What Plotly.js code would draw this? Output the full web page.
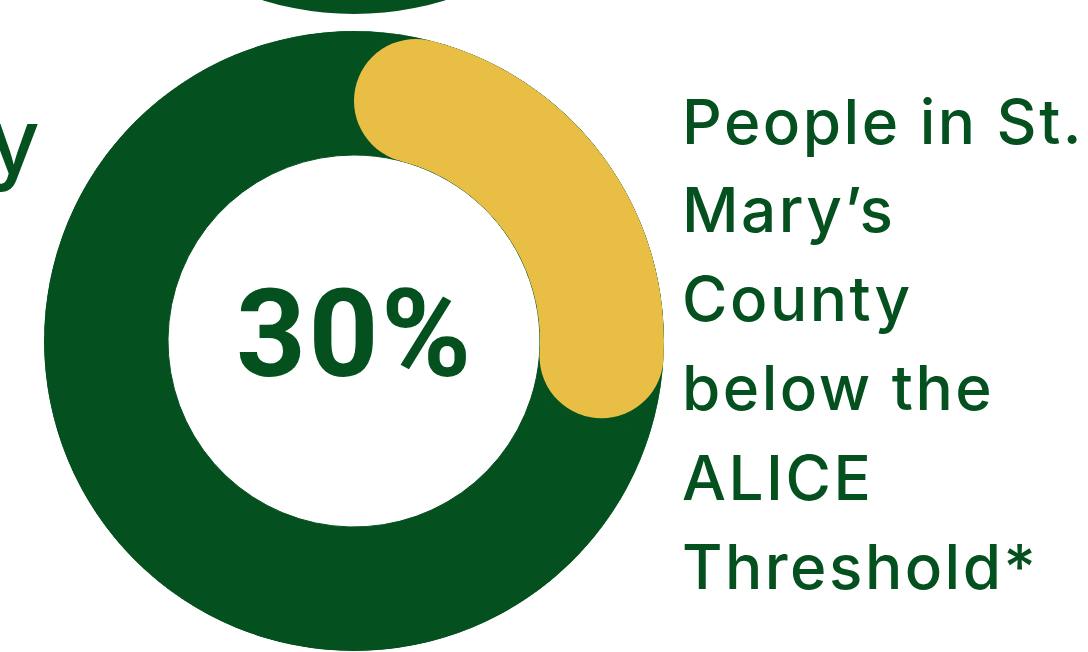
<!DOCTYPE html>
<html>
<head>
<meta charset="utf-8">
<script src="https://cdn.plot.ly/plotly-3.0.1.min.js"></script>
<style>
  html, body { margin: 0; padding: 0; background: #ffffff; }
  #chart { width: 1088px; height: 652px; }
  /* slightly wider tracking to approximate the original geometric typeface
     (unscoped so Plotly's text-measuring clone gets the same spacing) */
  .annotation-text { letter-spacing: 2.5px; }
</style>
</head>
<body>
<div id="chart"></div>
<script>
// ---------- data ----------
const categories = ['Below ALICE Threshold', 'At or above ALICE Threshold'];
const shares = [30, 70];
const centerLabel = ['30%'];
const descLines = ['People in St.', 'Mary\u2019s', 'County', 'below the', 'ALICE', 'Threshold*'];
const leftFragment = ['y'];

// ---------- style / geometry ----------
const W = 1088, H = 652;
const CX = 354, CY = 341;          // ring centre (px)
const R_OUT = 310, R_IN = 186;     // ring radii (px)
const GREEN = '#04511F';
const YELLOW = '#E8BE45';
const FONT = 'Inter, "Open Sans", sans-serif';

const thick = R_OUT - R_IN;
const rMid = (R_OUT + R_IN) / 2;
const capDeg = Math.asin((thick / 2) / rMid) * 180 / Math.PI;

const segDeg = shares.map(v => v * 3.6);
const segCenters = [];
let acc = 0;
segDeg.forEach(d => { segCenters.push(acc + d / 2); acc += d; });

const hiDeg = segDeg[0];
const coreStart = capDeg, coreEnd = hiDeg - capDeg;

const traces = [
  {
    type: 'barpolar',
    r: segDeg.map(() => thick),
    base: segDeg.map(() => R_IN),
    theta: segCenters,
    width: segDeg,
    text: categories,
    marker: { color: GREEN, line: { color: GREEN, width: 1 } },
    hoverinfo: 'text',
    subplot: 'polar'
  },
  {
    type: 'barpolar',
    r: [thick],
    base: [R_IN],
    theta: [(coreStart + coreEnd) / 2],
    width: [coreEnd - coreStart],
    text: [categories[0]],
    marker: { color: YELLOW, line: { color: YELLOW, width: 0 } },
    hoverinfo: 'text',
    subplot: 'polar'
  },
  {
    type: 'scatterpolar',
    mode: 'markers',
    r: [rMid, rMid],
    theta: [coreStart, coreEnd],
    marker: { size: thick, color: YELLOW, line: { width: 0 } },
    hoverinfo: 'skip',
    subplot: 'polar'
  }
];

const annotations = [];
annotations.push({
  text: centerLabel[0], xref: 'paper', yref: 'paper',
  x: 355 / W, y: 1 - 334 / H, xanchor: 'center', yanchor: 'middle',
  showarrow: false, font: { family: 'Roboto, Inter, sans-serif', size: 122, color: GREEN, weight: 700 }
});
const baselines = [143, 232, 320, 409, 499, 588];
descLines.forEach((t, i) => {
  annotations.push({
    text: t, xref: 'paper', yref: 'paper',
    x: 680 / W, y: 1 - (baselines[i] - 22) / H, xanchor: 'left', yanchor: 'middle',
    showarrow: false, font: { family: FONT, size: 62, color: GREEN, weight: 500 }
  });
});
annotations.push({
  text: leftFragment[0], xref: 'paper', yref: 'paper',
  x: 44 / W, y: 1 - 140 / H, xanchor: 'right', yanchor: 'middle',
  showarrow: false, font: { family: FONT, size: 90, color: GREEN, weight: 500 }
});

const layout = {
  width: W, height: H,
  margin: { l: 0, r: 0, t: 0, b: 0, pad: 0 },
  paper_bgcolor: '#ffffff',
  showlegend: false,
  polar: {
    domain: { x: [(CX - R_OUT) / W, (CX + R_OUT) / W], y: [1 - (CY + R_OUT) / H, 1 - (CY - R_OUT) / H] },
    bgcolor: 'rgba(0,0,0,0)',
    radialaxis: { visible: false, range: [0, R_OUT] },
    angularaxis: { visible: false, rotation: 90, direction: 'clockwise' },
    hole: 0
  },
  shapes: [{
    type: 'circle', xref: 'paper', yref: 'paper', layer: 'below',
    x0: (CX - R_OUT) / W, x1: (CX + R_OUT) / W,
    y0: 1 - 14 / H, y1: 1 + (2 * R_OUT - 14) / H,
    fillcolor: GREEN, line: { width: 0 }
  }],
  annotations: annotations
};

Plotly.newPlot('chart', traces, layout, { displayModeBar: false, staticPlot: true });
</script>
</body>
</html>
